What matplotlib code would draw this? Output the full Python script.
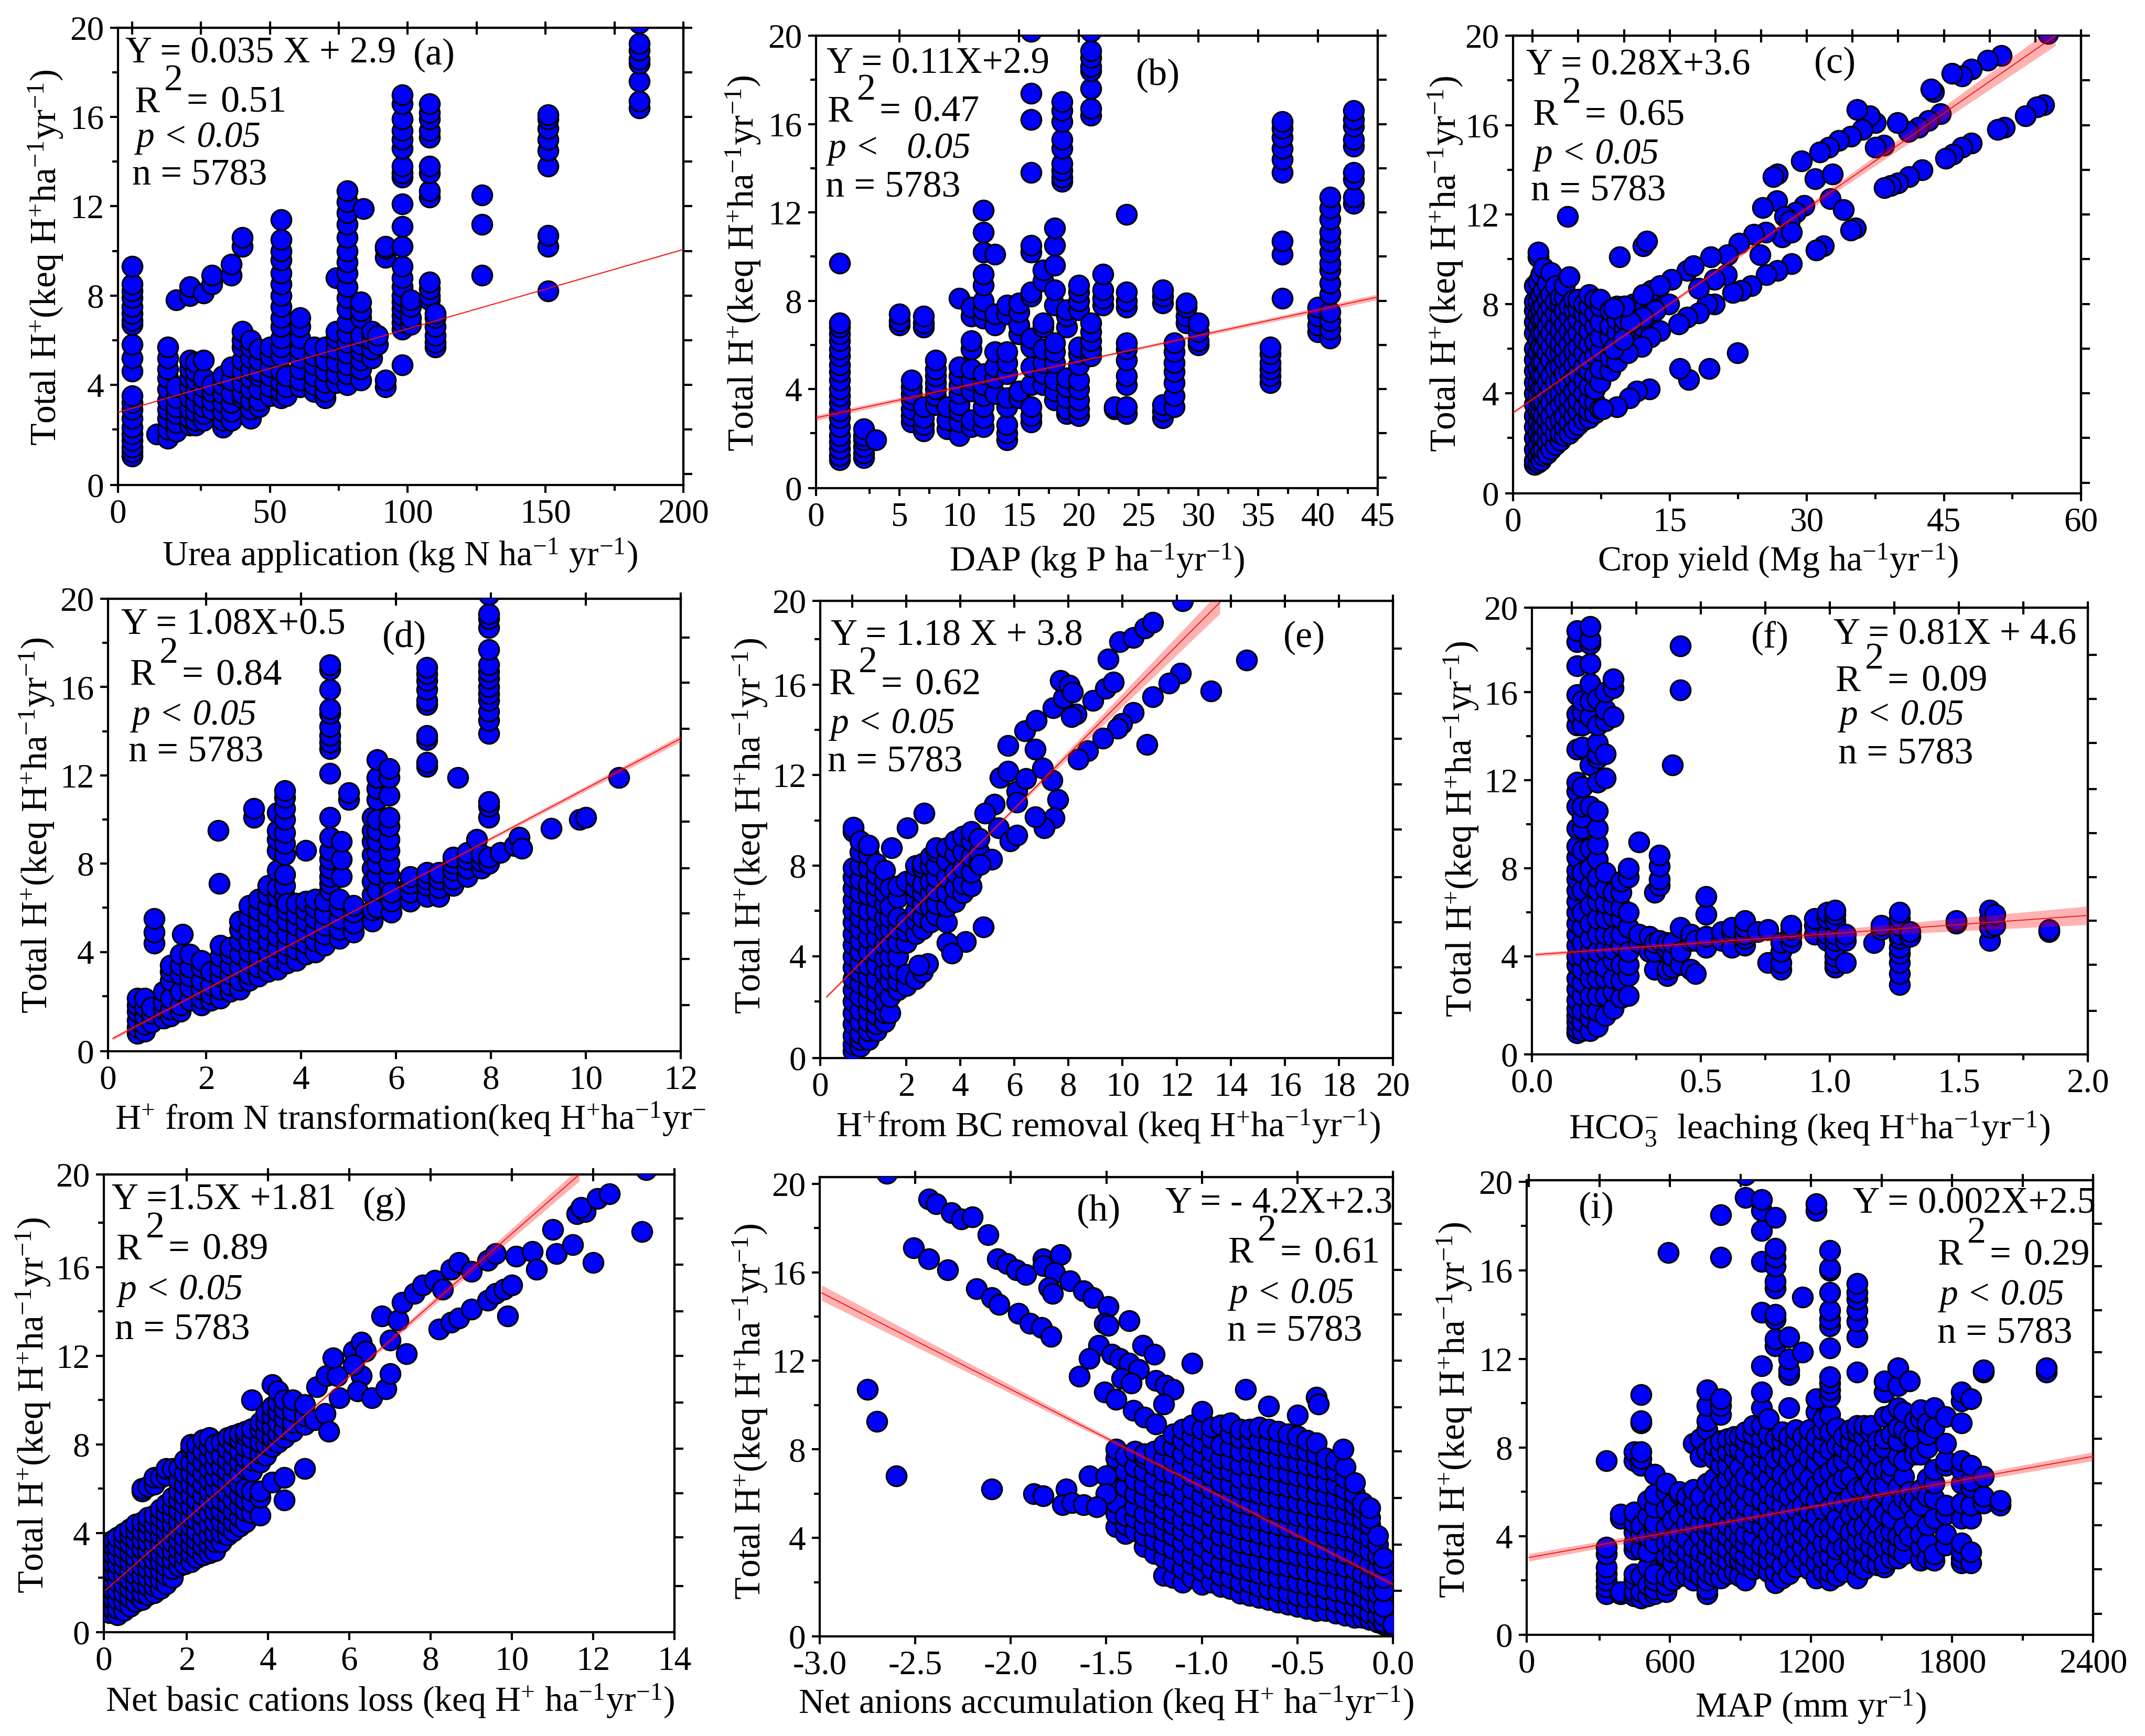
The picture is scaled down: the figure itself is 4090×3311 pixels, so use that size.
import matplotlib
matplotlib.use("Agg")
import matplotlib.pyplot as plt
import numpy as np

W, H = 4091, 3311
plt.rcParams['font.family'] = ['Liberation Serif', 'DejaVu Sans']
plt.rcParams['mathtext.fontset'] = 'custom'
plt.rcParams['mathtext.rm'] = 'Liberation Serif'
plt.rcParams['mathtext.it'] = 'Liberation Serif:italic'
plt.rcParams['mathtext.bf'] = 'Liberation Serif:bold'

# ---------------- panel (a) ----------------
a_cx = [0, 9, 13, 16, 21, 23, 26, 29, 33, 36, 40, 43, 46, 50, 54, 56, 61, 66, 70, 74, 78, 83, 84, 87, 89, 92, 98, 101, 108, 110, 127, 151, 184]
a_cy = [[0.8,1.0,1.2,1.5,1.8,2.1,2.5,2.9,3.2,3.5,4.6,5.2,5.8,6.7,6.9,7.2,7.5,7.9,8.2,8.5,9.3],
        [1.8],[1.6,2.0,2.5,2.9,3.3,3.8,4.3,4.7,5.2,5.7],[1.9,2.3,2.7,3.0,3.4,3.9,7.8],
        [2.2,2.5,2.9,3.4,3.9,4.3,4.7,5.1,8.0,8.4],[2.2,2.4,2.8,3.2,3.7,4.2,4.6,5.0],
        [2.4,2.7,3.0,3.4,3.9,4.3,5.1,8.1],[2.9,3.3,3.7,4.0,8.5,8.9],[2.1,2.4,2.8,3.2,3.6,4.0,4.4],
        [2.4,2.8,3.2,3.6,4.2,4.8,8.9,9.4],[3.4,3.6,4.1,4.6,5.1,5.7,6.0,6.4,10.2,10.6],
        [2.5,2.9,3.3,3.8,4.3,4.7,5.2,5.7,6.0],[3.0,3.3,3.8,4.4,4.6,5.1,5.6],[3.5,3.9,4.4,4.8,5.3,5.7],
        [3.4,3.7,4.1,4.6,5.3,5.7,6.1,6.6,7.0,7.5,8.0,8.5,9.0,9.6,10.0,10.5,11.4],[3.5,3.9,4.4],
        [3.9,4.2,4.7,5.2,5.6,6.1,6.6,7.0],[3.7,4.0,4.4,4.9,5.3,5.7],[3.4,3.7,4.1,4.6,5.1,5.7],
        [4.1,4.5,5.0,5.6,6.1,6.4,8.8],[4.0,4.5,4.9,5.4,5.9,6.3,6.8,7.4,7.9,8.4,9.0,9.5,10.0,10.6,11.2,11.7,12.2,12.7],
        [4.2,4.7,5.1,5.5,5.8,6.2,7.0,7.3,7.7],[11.9],[5.2,5.6,6.0,6.4],[5.8,6.2],[3.9,4.2,9.7,10.1,10.2],
        [4.9,6.5,6.8,7.1,7.4,7.7,8.0,8.4,8.8,9.3,10.2,11.1,12.1,13.3,13.5,13.8,14.6,15.0,15.4,15.9,16.6,17.0],
        [6.7,7.0,7.5,7.8],[7.8,8.0,8.3,8.6,12.4,12.7,13.5,13.8,15.1,15.4,15.9,16.2,16.6],
        [5.7,5.9,6.2,6.6,7.0,7.2],[8.9,11.2,12.5],[8.2,10.2,10.7,13.8,14.5,15.0,15.5,15.9,16.1],
        [16.4,16.7,17.6,18.4,18.6,19.0,19.3,20.2]]
a_line_x = [-5.1, 200]; a_line_y = [2.77, 10.07]; a_band = [0.03, 0.02, 0.03]

# ---------------- panel (b) ----------------
b_cx = [0,2,3,5,6,7,8,9,10,11,12,13,14,15,16,17,18,19,18.6,20,21,22,23,24,27,28,29,30,36,37,40,41,43]
b_cy = [[0.8,1,1.3,1.6,1.9,2.3,2.7,3,3.4,3.7,4,4.4,4.8,5.1,5.5,5.8,6.2,6.5,6.8,7,9.7],
        [0.9,1.1,1.4,1.7,1.9,2.2],[1.7],[6.9,7.1,7.4],[2.5,2.8,3.1,3.5,3.8,4.1,4.4],[2.1,2.4,2.7,3.2,6.8,7,7.3],
        [3.3,3.7,4,4.3,4.6,4.9,5.3],[2.2,2.6,3.2],[1.9,2.5,3,3.3,3.8,4.2,4.6,5,8.1],[2.3,2.6,3.9,4.4,4.9,5.8,6.2,7.3,7.7],
        [2.3,2.7,3.2,3.7,4.2,4.7,7.2,7.6,8,8.7,9.2,10.2,11.1,12.1],[3.8,4.5,5,5.7,6.9,7.4,10.1],
        [1.7,2,2.4,3.2,3.6,4.7,5.2,5.7,7.4,7.8],[3.6,3.9,6.5,6.9,7.5,7.9],
        [2.5,2.8,3.2,4.2,5,5.9,6.3,8.2,8.4,10.2,10.5,13.8,16.2,17.4,20.2],[4.2,4.7,5.2,5.8,6.8,7,8.9,9.4],
        [3.5,3.9,4.4,5.2,5.7,6.1,7.8,8.5,9.6,10.5,11.3],[2.9,3.1,3.6,4.1,4.5,6.8,7.3,7.6],
        [13.4,13.6,13.9,14.2,14.9,15.3,16.1,16.6,17],[2.8,3.1,3.5,4,4.4,5.1,5.6,5.9,7.6,8,8.4,8.7],
        [5.5,5.8,6.2,6.6,7,16.4,16.7,17.6,18.4,18.6,19,19.3,20.2],[7.8,8.1,8.5,9.2],[3.1,3.2],
        [2.9,3.2,4.2,4.6,5.3,5.8,6.1,7.7,8,8.4,11.9],[2.7,3,3.3,7.9,8.2,8.5],[3.2,3.7,4.3,4.8,5.2,5.7,6.1],
        [7,7.3,7.7,7.9],[6,6.2,6.6,7],[4.3,4.6,4.9,5.2,5.6,5.9],[8.1,10.1,10.7,13.8,14.4,14.9,15.4,15.8,16.1],
        [6.6,6.9,7.3,7.7],[6.3,6.7,7.1,7.5,8.3,8.8,9.4,9.7,10.2,10.7,11.1,11.7,12.2,12.7],
        [12.4,12.7,13.5,13.8,15,15.3,15.9,16.2,16.6]]
b_line_x = [-2, 45]; b_line_y = [2.7, 8.17]; b_band = [0.12, 0.05, 0.13]

# ---------------- panel (c) ----------------
c_cx = [0.2,0.6,0.9,1.2,1.6,2,2.5,3,3.5,4,4.5,5,5.6,6.2,6.8,7.4,8.5,9.2,10,11,12,13]
c_cy = [[0.8,1,1.5,2,2.5,3,3.5,4,4.5,5,5.5,6,6.7,7.2,7.7,8.1,8.8],
        [0.9,1.2,1.7,2.2,2.7,3.2,3.9,4.5,5.1,5.8,6.4,7,7.5,8.1,9.0,10.1,10.3],
        [1.0,1.4,2.0,2.5,3.1,3.6,4.2,4.8,5.4,6.1,6.7,7.3,7.8,8.4,9.3],
        [1.2,1.5,2,2.5,3,3.6,4.2,4.8,5.4,6,6.7,7.3,7.9,8.6,9.6],
        [1.3,1.8,2.3,2.8,3.3,3.9,4.5,5.1,5.8,6.4,7,7.6,8.2,8.9],
        [1.5,2,2.5,3,3.6,4.2,4.8,5.5,6.1,6.7,7.3,7.9,8.4,9.4],
        [1.7,2.2,2.7,3.3,3.9,4.5,5.1,5.8,6.4,7,7.6,8.1,8.8],
        [1.9,2.2,2.8,3.5,4,4.6,5.2,5.8,6.2,6.8,7.4,8,8.3],
        [2.1,2.5,3,3.7,4.3,4.9,5.5,6,6.5,7.1,7.7,8.3,8.8],
        [2.2,2.7,3.3,3.8,4.4,5,5.6,6.2,6.8,7.4,7.9,9.2],
        [2.4,3,3.5,4.1,4.7,5.3,5.9,6.5,7.1,7.7,8.2],
        [2.6,3.2,3.7,4.3,4.9,5.5,6.1,6.7,7.3,7.8,8.2],
        [2.8,3.4,4,4.6,5.2,5.8,6.4,7,7.6,8],
        [2.9,3.2,3.7,4.3,5,5.5,6.2,6.8,7.4,7.9,8.4],
        [3.1,3.6,4.2,4.8,5.7,6.3,7,7.6,8.2],
        [3.3,4.5,5.1,5.9,6.5,7.2,7.9,8.2],[5,5.6,6.5,7,7.7],[5.4,6,6.7,7.3,7.9],[6.3,6.9,7.3,7.9],[6.1,6.7,7.3,8],[6.3,7,7.6,8.1],[6.9,7.5,8.2,8.6]]
c_px = [56.4,51.3,49.8,48,47,45.9,43.9,43.6,44.6,43.3,42.2,41.1,39.9,38.4,37.5,37.5,36.9,35.5,36.1,34.8,33.5,32.4,31.4,29.4,26.8,26.3,30.9,32.8,32.6,34,35.3,34.8,31.8,31,28.3,26.8,25.6,24.9,23.9,22.8,21.9,19.9,19.1,18.2,16.9,16,13.9,12.9,11.9,10.4,8.9,
        26.7,25.2,29.7,28.8,27.6,28.1,27.3,28.3,25.5,24.2,22.6,21.3,19.5,21.2,19.9,18.2,16.9,17.6,15.2,13.9,14.9,13.4,12.1,12.1,10.7,10.1,8.9,9.9,
        3.8,9.5,12.1,12.5,22.4,19.3,17.1,16.1,12.8,11.4,10.6,9.2,7.7,
        55.9,55.2,53.9,51.6,50.9,48,47,46,45.2,42.6,41.2,40,39.2,38.5]
c_py = [20.1,19.1,18.9,18.5,18.2,18.3,17.5,17.6,16.5,16.2,15.9,15.7,16.1,15.1,15,16.1,16.4,16.7,15.8,15.5,15.3,15,14.8,14.4,13.8,13.7,13.6,13.8,12.7,12.2,11.4,11.3,10.6,10.4,9.8,9.5,9.3,10.2,8.8,8.6,8.5,8,8,7.6,7.4,7.1,6.8,6.5,6.1,5.8,6,
        12.6,12.3,12.4,12.1,11.9,11.7,11,11.2,11.2,11.1,10.7,10.2,10.1,9.3,9.1,8.7,9.5,9.7,9.1,8.8,8,7.7,8.4,7.4,7.2,7.9,7.8,6.4,
        11.9,10.1,10.6,10.8,5.8,5.1,4.6,5.1,4.2,4.1,3.8,3.4,3.3,
        16.9,16.8,16.4,15.9,15.8,15.2,15,14.7,14.5,14,13.7,13.4,13.3,13.2]
c_line_x = [-2.14, 57.2]; c_line_y = [3.13, 20]; c_band = [0.06, 0.1, 0.45]

# ---------------- panel (d) ----------------
d_cx = [0.55,0.7,0.85,0.9,1.1,1.25,1.45,1.5,1.65,1.9,2.1,2.25,2.27,2.3,2.5,2.7,2.9,3,3.1,3.3,3.5,3.65,3.7,3.9,4.1,4.3,4.5,4.6,4.85,4.8,5,5.1,5.5,5.6,5.85,5.9,6.3,6.65,6.9,7.2,7.3,7.5,7.7,7.8,7.95,8.2,8.5,8.6,8.65,9.27,9.87,10,10.7]
d_cy = [[0.3,0.6,0.9,1.3,1.6,1.9],[0.4,0.7,1.1,1.5,1.9],[0.8,1.2,1.5],[4.4,4.9,5.5],[1.0,1.4,1.7,2.2],[1.1,1.4,1.9,2.7,3.1,3.4],
        [1.3,1.6,2.2,3,3.4,3.9],[4.8],[1.8,2.4,2.9,3.3,3.9],[1.6,1.9,2.3,2.7,3.3,3.6],[1.8,2.1,2.5,3.1],[9.5],[7.1],
        [1.9,2.3,2.9,3.3,3.8,4.3],[2.2,2.5,3,3.4,3.9,4.2],[2.3,2.7,3.3,3.9,4.5,5,5.4],[2.7,3,3.5,4,4.5,5,5.6,6.1],[10.1,10.5],
        [2.9,3.3,3.8,4.4,4.9,5.4,5.9,6.4],[3.1,3.5,4,4.5,5,5.6,6.1,6.6,7],[3.2,3.7,4.2,4.7,5.3,5.8,6.5,6.9,7.7,8.6,9.1,9.5,10.3],
        [6.5,7,7.5,8.4,8.9,9.4,10,10.5,11,11.3],[3.5,3.9,4.3,4.8,5.4,5.9,6.2],[3.6,4.1,4.6,5.2,5.7,6.2],[3.9,4.4,4.9,5.4,5.9,6.3,8.6],
        [4.0,4.5,5,5.5,6,6.4],[4.3,4.8,5.2,5.7,6.3],[6.8,7.1,7.4,7.8,8.2,8.6,9.2,10.1,12.1,13.2,13.5,13.8,14.2,14.8,15,15.9,16.8,17],
        [7.4,8.2,9],[4.6,5,5.5,6,6.4],[10.9,11.2],[4.9,5.3,5.8,6.1],[5.4,5.9,6.6,7.2,7.8,8.4,9,9.5,10.1],
        [6,6.8,7.5,8,8.5,9,9.5,10,10.9,11.4,11.9,12.7],[6.5,7,7.5,8,8.6,9.1,9.7,10.1,11.1,11.9,12.3],[5.8,6.3,6.7],[6.3,6.7,7.1,7.4],
        [6.5,7,7.3,7.6,12.4,12.6,13.6,13.8,15.2,15.4,15.9,16.3,16.6,16.9],[6.5,6.9,7.3,7.6],[7,7.3,7.7,8,8.3],[11.9],[7.4,7.8,8.2,8.5],[9.1],[7.8,8.1,8.4],
        [8,8.3,10.1,10.6,10.8,13.9,14.5,14.9,15.4,15.7,16,16.4,16.7,17,17.7,18.7,19.1,19.3,20.2],[8.5],[8.8],[9.2],[8.7],[9.6],[10],[10.1],[11.9]]
d_line_x = [0.03, 12]; d_line_y = [0.08, 13.67]; d_band = [0.08, 0.04, 0.15]

# ---------------- panel (e) ----------------
e_cx = [0.05,0.3,0.6,0.9,1.2,1.4,1.7,2.0,2.35,2.6,2.9,3.1,3.5,3.8,4.1,4.4,4.7]
e_cy = [[-0.2,0.1,0.5,1.0,1.5,2.0,2.5,3.0,3.5,4.0,4.5,5.0,5.5,6.0,6.5,7.0,7.5,7.9,9.5,9.7],
        [0.0,0.3,0.6,1.1,1.6,2.2,2.8,3.3,3.7,4.2,4.7,5.2,5.7,6.2,6.8,7.4,8.0,8.6,9.1],
        [0.3,0.7,1.1,1.6,2.1,2.6,3.1,3.6,4.2,4.8,5.4,6.0,6.7,7.2,7.9,8.5,8.9],
        [0.7,1.0,1.4,1.9,2.4,3.0,3.6,4.2,4.8,5.4,6.0,6.6,7.1,7.6,8.1],
        [1.1,1.5,2.0,2.6,3.3,3.9,4.5,5.1,5.7,6.3,6.8,7.3,7.8],
        [1.5,2.2,2.9,3.4,4.0,4.6,5.2,5.7,6.2,7.0],
        [2.5,2.9,3.4,4.0,4.6,5.2,5.7,6.6,7.1],
        [2.7,3.2,4.6,5.1,5.5,7.3],
        [3.0,5.0,5.6,6.0,6.6,7.0,7.5,8.0],
        [3.3,5.2,5.7,6.3,6.8,7.2,7.9,8.1],
        [5.5,6.2,6.8,7.3,8.0,8.4],
        [5.8,6.3,6.9,7.5,8.0,8.6,8.8],
        [5.5,6.2,6.8,7.5,8.2,8.8],[6.4,7.0,7.7,8.5,9.1],[6.8,7.2,7.9,8.6,9.3],[7.1,7.7,8.4,9.1,9.5],[8.1,8.6,9.2]]
e_px = [5.76,6.77,6.38,6.82,7.44,7.81,7.70,8.03,8.15,8.29,8.12,8.91,9.38,9.67,9.47,9.89,10.4,10.82,11.12,12.22,11.12,12.14,11.71,13.27,14.58,10.9,10.4,9.97,9.81,9.27,8.71,8.37,7.39,7.05,7.61,7.48,7.11,6.77,6.09,6.09,5.47,5.76,6.43,5.25,4.91,5.42,5.84,6.09,2.67,2.04,1.45,4.86,4.19,3.51,3.68,2.8,2.46,5.16,4.74]
e_py = [13.31,13.15,13.96,14.41,14.98,15.42,16.19,15.98,15.66,14.69,14.57,15.3,15.82,16.11,17.12,17.89,18.09,18.49,18.74,19.7,15.47,16.5,16.06,15.71,17.08,13.36,14.77,14.28,14.07,13.64,13.07,12.71,11.77,12.31,10.91,10.11,9.67,10.15,11.29,10.8,11.89,12.18,11.85,10.72,10.32,9.67,9.1,9.34,10.32,9.67,8.78,5.3,4.65,4.6,4.13,3.68,3.6,8.29,8.05]
e_line_x = [-0.95, 13.6]; e_line_y = [2.2, 19.63]; e_band = [0.06, 0.08, 0.5]

# ---------------- panel (f) ----------------
f_cx = [0.02,0.04,0.07,0.1,0.13,0.16,0.19,0.22,0.26,0.3,0.32,0.34,0.37,0.39,0.42,0.46,0.48,0.52,0.58,0.62,0.67,0.72,0.76,0.81,0.85,0.94,0.99,1.02,1.06,1.17,1.2,1.27,1.31,1.49,1.62,1.64,1.85]
f_cy = [[0.5,0.7,1,1.3,1.6,2,2.5,3,3.6,4,4.5,5,5.5,6,6.5,7,7.5,7.9,8.5,9,9.8,10.8,11.5,11.9,13.4,14.5,15,15.9,17.2,18.3,18.8],
        [0.6,1,1.5,2.2,2.8,3.4,4,4.6,5.3,6,7,7.8,8.8,9.8,10.3,10.8,11.7,13.5,14.5,15.1,15.6],
        [0.6,1.2,1.6,2.2,3,3.6,4.2,4.8,5.5,6.3,7.2,8,8.9,10.8,12.7,14.9,15.6,16.4,17.3,18.2,18.4,19,20.3],
        [0.8,1.5,2.2,3,3.7,4.2,5,5.7,6.5,7,7.6,8.4,9.1,9.8,10.6,11.9,13,13.2,13.7,14.5,15.7],
        [1.3,2.2,3,3.5,4.3,5,5.7,6.4,7.1,7.8,12.1,13.2,14.7,15.2,16],
        [1.6,2.4,3,3.8,4.3,4.9,5.8,6.3,6.9,14.9,16.2,16.6],
        [2.1,2.9,3.6,4.5,5,5.7,6.2,6.9,7.4],[2.2,3.1,3.6,4.2,5.3,6.0,7.6,8],[4.6,5,9.2],[4.2,4.9],[3.4,4.2,4.6,6.9],
        [4.7,7.2,7.5,8.1,8.6],[3.1,3.4,4.3,4.6],[3.5,4,4.6,12.7],[3.6,4.2,5.3,16.1,18.1],[3.4,4.7,5],[3.2,4.7],[4.4,4.9,5.9,6.7],
        [4.7,5.1],[4.4,5.1,5.3],[4.5,4.8,5,5.3,5.6],[5.1],[3.7,5.2],[3.4,3.7,4.2,4.6],[4.6,4.9,5.2,5.4],[5,5.4,5.7],[4.7,5,5.7,6],
        [3.5,3.7,4.0,4.3,4.7,5,5.6,5.9,6.1],[3.7,4.7,5],[4.6],[5.2,5.4],[2.7,3.2,3.7,4.1,4.4,4.8,5,5.4,5.7,6],[4.9,5.1],[5.5,5.6],
        [4.7,5.3,5.7,6.1],[5.4,5.9],[5.1,5.2]]
f_line_x = [-0.14, 2.0]; f_line_y = [4.07, 5.85]; f_band = [0.08, 0.15, 0.42]

# ---------------- panel (g) ----------------
g_cx = [0.1,0.2,0.3,0.45,0.6,0.75,0.9,1.05,1.2,1.35,1.5,1.65,1.8,1.95,2.1,2.25,2.4,2.55,2.7,2.85,3,3.15,3.3,3.45,3.6,3.8,3.95,4.1,4.25,4.4,4.6,4.9]
g_cy = [[0.4,0.8,1.2,1.6,2.0,2.4,2.8,3.2,3.6],[0.5,1,1.4,1.8,2.2,2.6,3,3.4,3.7],[0.3,0.6,1,1.4,1.8,2.2,2.6,3,3.4,3.8],[0.5,0.9,1.3,1.7,2.1,2.5,2.9,3.3,3.7,4],
        [0.7,1.1,1.5,1.9,2.3,2.7,3.1,3.5,3.9,4.2],[0.9,1.3,1.7,2.1,2.5,2.9,3.3,3.7,4.1,4.4],[1,1.3,1.7,2.1,2.5,2.9,3.3,3.7,4.1,4.5,5.9,6],[1.2,1.6,2,2.4,2.8,3.2,3.6,4,4.4,4.7,6.1],
        [1.3,1.6,2,2.4,2.8,3.2,3.6,4,4.4,4.8,6.2,6.5],[1.5,1.9,2.3,2.7,3.1,3.5,3.9,4.3,4.7,5.1,6.5],[1.7,2.1,2.5,2.9,3.3,3.7,4.1,4.5,4.9,5.3,6.6,6.9],[2,2.4,2.8,3.2,3.6,4,4.4,4.8,5.2,5.6,6.9],
        [2.5,2.9,3.3,3.7,4.1,4.5,5,5.5,5.9,6.4,6.9],[2.6,3,3.4,3.8,4.3,4.8,5.3,5.7,6.2,6.7,7.3],[2.7,3.1,3.5,3.9,4.3,4.7,5.2,5.7,6.2,6.7,7.2,7.8,8],[2.9,3.3,3.7,4.1,4.6,5,5.5,6,6.5,7,7.5,8],
        [3,3.4,3.8,4.3,4.8,5.2,5.7,6.2,6.7,7.2,7.7,8.2],[3.1,3.5,3.9,4.4,4.9,5.4,5.9,6.4,6.9,7.4,7.9,8.3],[3.2,3.6,4,4.5,5,5.5,6,6.5,7,7.5,8],[3.6,4,4.5,5,5.5,6,6.5,7,7.5,8.1],
        [3.9,4.3,4.8,5.3,5.8,6.3,6.8,7.3,7.8,8.3],[4.1,4.5,5,5.5,6,6.5,7,7.5,8,8.4],[4.3,4.7,5.2,5.7,6.2,6.7,7.2,7.7,8.2,8.5],[4.5,5,5.5,6,6.9,7.4,7.9,8.4,8.6],
        [4.9,5.4,5.9,6.8,7.3,7.8,8.3,8.7,10],[4.8,5.6,5.9,7.2,7.6,8.1,8.7,9],[7.5,8,8.5,9,9.4],[6.3,7.9,8.3,8.8,9.3,9.7,10.7],[8.1,8.5,9,9.5,9.9,10.4],
        [5.5,6.5,8.3,8.7,9.2,9.6,10],[8.6,9,9.5,10],[6.9,8.9,9.3,9.8]]
g_px = [5.15,5.4,5.5,5.76,5.2,5.43,5.7,5.6,6.1,6.3,6.4,6.3,6.1,6.2,6.55,6.9,7,7,7.4,6.8,7.2,7.3,7.6,7.8,8.1,8.5,8.7,8.3,9,9.4,9.6,8.2,8.5,8.7,9,9.4,9.6,9.8,10,9.9,10.1,10.5,10.6,11.1,11.5,11,12,11.6,11.8,11.7,12.1,12.4,13.2,13.3]
g_py = [9.1,9.4,8.6,10.1,10.6,11.1,11.1,11.9,12.2,12.6,12.2,11.1,11.6,10.4,10.1,10.5,11.2,12.7,12.1,13.8,13.6,14.4,14.8,15.2,15.4,15.9,16.2,15,15.8,16.3,16.6,13.2,13.5,13.7,14.1,14.5,14.8,15,15.2,13.8,16.5,16.7,15.9,16.6,17,17.7,16.2,18.4,18.5,18.7,19.1,19.3,17.6,20.4]
g_line_x = [0, 11.66]; g_line_y = [1.43, 20.18]; g_band = [0.05, 0.06, 0.3]

# ---------------- panel (h) ----------------
h_cx = [-1.45,-1.4,-1.35,-1.3,-1.25,-1.2,-1.15,-1.1,-1.05,-1.0,-0.95,-0.9,-0.85,-0.8,-0.75,-0.7,-0.65,-0.6,-0.55,-0.5,-0.45,-0.4,-0.35,-0.3,-0.25,-0.2,-0.16,-0.12,-0.08,-0.05,0.0]
h_cy = [[4.5,5.1,5.6,6.4,7.1,7.6,8.0],[4.2,4.6,5,6.3,7,7.7],[4.3,4.9,5.4,6,6.6,7.2,7.9],[3.6,4.1,4.6,5.1,5.8,6.4,7,7.6,7.8],[3.3,3.9,4.5,5.1,5.6,6.1,6.7,7.3,7.9],
        [2.3,3.1,3.7,4.3,4.8,5.3,5.8,6.4,7,7.6,8.2],[2.2,2.9,3.5,4.1,4.6,5.1,5.7,6.3,6.9,7.5,8.1,8.7],[2,2.6,3.2,3.8,4.3,4.8,5.4,6,6.6,7.2,7.8,8.4,8.9],[2.2,2.8,3.3,3.9,4.5,5,5.6,6.2,6.8,7.4,8,8.6,9.1],
        [1.9,2.5,3,3.6,4.2,4.8,5.4,5.9,6.5,7.1,7.7,8.3,8.9,9.7],[2,2.6,3.2,3.8,4.4,5,5.6,6.2,6.8,7.4,7.9,8.5,9],[1.8,2.3,2.9,3.5,4.1,4.7,5.3,5.9,6.5,7.1,7.6,8.2,9.1],[1.7,2.2,2.8,3.4,4,4.6,5.2,5.8,6.4,7,7.5,8.1,8.7,9.2],
        [1.5,2,2.6,3.2,3.8,4.4,5,5.6,6.2,6.7,7.3,7.9,8.5,8.9],[1.4,2,2.5,3.1,3.7,4.3,4.9,5.5,6.1,6.7,7.3,7.9,8.5,8.9],[1.3,1.8,2.4,3,3.6,4.2,4.8,5.4,6,6.6,7.2,7.8,8.4,9],[1.2,1.7,2.3,2.9,3.5,4.1,4.7,5.3,5.9,6.5,7.1,7.7,8.3,8.9],
        [1.1,1.6,2.2,2.8,3.4,4,4.6,5.2,5.8,6.4,7,7.6,8.2,8.8],[1,1.5,2.1,2.7,3.3,3.9,4.5,5.1,5.7,6.3,6.9,7.5,8.1,8.7],[0.9,1.4,2,2.6,3.2,3.8,4.4,5,5.6,6.2,6.8,7.4,8,8.6],[0.8,1.3,1.9,2.5,3.1,3.7,4.3,4.9,5.5,6.1,6.7,7.3,7.9,8.4],
        [0.7,1.3,1.8,2.4,3,3.6,4.2,4.8,5.4,6,6.6,7.2,7.8,8.3],[0.7,1.2,1.7,2.3,2.9,3.5,4.1,4.7,5.3,5.9,6.5,7.1,7.6],[0.6,1.1,1.6,2.2,2.8,3.4,4,4.6,5.2,5.8,6.4,7,7.5],[0.5,1,1.5,2.1,2.7,3.3,3.9,4.5,5.1,5.7,6.2,6.7,7.2],
        [0.4,0.9,1.4,2,2.6,3.2,3.8,4.4,5,5.5,6,6.5],[0.4,0.8,1.3,1.8,2.4,3,3.6,4.2,4.8,5.3,5.6],[0.3,0.6,1.1,1.6,2.2,2.8,3.4,4,4.6,4.9],[0.2,0.5,1,1.5,2.1,2.6,3.2,3.7,4.1],
        [0.1,0.2,0.5,0.9,1.6,2.2,2.8,3.1],[0,0.1]]
h_px = [-2.65,-2.43,-2.39,-2.31,-2.26,-2.2,-2.12,-2.07,-2.02,-1.97,-1.92,-1.83,-1.83,-1.74,-1.77,-1.8,-1.78,-1.69,-1.62,-1.57,-1.49,-1.51,-1.49,-1.38,-1.54,-1.59,-1.64,-1.51,-1.45,-1.47,-1.43,-1.38,-1.33,-1.42,-1.37,-1.31,-1.25,-1.24,-1.19,-1.15,-1.2,-1.36,-1.3,-1.24,-1.05,-0.77,-0.65,-0.5,-0.4,-0.39,-0.26,-0.12,-2.75,-2.7,-2.6,-2.1,-1.88,-1.83,-1.71,-1.59,-1.5,-1.5,-1.73,-1.68,-1.62,-1.55,-2.51,-2.43,-2.33,-2.18,-2.1,-2.06,-1.96,-1.9,-1.84,-1.79]
h_py = [20.46,19.3,19.1,18.7,18.4,18.5,17.7,16.6,16.4,16.1,15.9,16.6,16.3,16.8,16,15.3,15.05,15.6,15.15,14.85,14.45,13.7,13.6,13.8,12.7,12.1,11.3,10.6,10.25,12.3,12.1,11.9,11.6,11.2,11,12.7,12.3,11.1,10.9,10.7,10.05,9.75,9.45,9.15,11.9,10.7,9.95,9.55,10.35,10.05,8,5.35,10.7,9.25,6.8,6.2,6,5.9,6.2,6.8,6.8,6,5.5,5.6,5.5,5.4,17.1,16.6,16.1,15.25,14.85,14.55,14.15,13.7,13.5,13.1]
h_line_x = [-2.99, 0]; h_line_y = [15.07, 1.9]; h_band = [0.35, 0.1, 0.12]

# ---------------- panel (i) ----------------
i_cx = [330,390,447,476,505,534,583,610,640,670,699,728,757,786,815,844,873,897,921,955,989,1018,1047,1076,1105,1134,1163,1192,1221,1250,1279,1308,1337,1366,1395,1424,1453,1482,1511,1540,1569,1595,1618,1640,1666,1695,1724,1773,1840,1879,1933,2005,2202,593]
i_cy = [[1.4,1.7,2,2.3,2.6,3.2,3.5,7.4],[1.4,1.5,4.8,5],[1.3,1.5,2,2.3,3.4,3.7,4.2,4.6,5.1,7.4,7.8],
        [1.2,1.5,2.2,3.4,4.1,4.5,7.2,7.5,7.8,9.1,9.2,10.4],[1.3,1.8,2.6,3.3,4,4.9,5.6],[1.4,1.6,2,2.3,3.7,4.3,4.6,5.3,5.9,6.8],[1.5,1.8,2.2,3.1,3.7,4.4,5.2,6,6.4],[2,2.8,3.3,3.9,4.7,5.5],
        [2.2,3.2,3.6,4.2,5,5.9,6],[2.2,2.7,3.3,3.9,4.6,5.3,5.8],[2,2.4,3,3.5,4.4,4.9,5.5,6.1,8.2],[2.2,2.8,3.3,4,4.6,5.2,5.8,7.6,8.4],[1.4,1.6,2,2.4,3.1,3.6,4.2,4.6,5.2,6.4,7.8,8.8,9.2,9.9,10.6],[2.2,2.7,3.4,3.9,4.5,5,5.8,6.6,7.5,8.1],
        [2.1,2.7,3.1,3.6,4.2,4.8,5.6,6.3,7.2,7.8,8.3,9.5,9.9,10.2,16.6,18.5],[2.3,2.9,3.4,4,4.5,5.2,5.9,6.6,7.2,7.8,8.4],[2.4,3,3.6,4.2,4.8,5.4,6,6.8,7.5,8,8.5],[2.2,2.9,3.3,3.9,4.5,5.1,5.7,6.4,7.1,7.9,8.5],
        [2,2.7,3.1,3.7,4.1,4.8,5.4,6.1,6.7,7.7,8.3,8.7,19.3,20.3],[2.5,2.9,3.4,4,4.6,5.1,5.8,6.5,7.3,8,8.6,9],
        [2.6,3.1,3.6,4.4,5,5.6,6.3,7,7.6,8,8.4,9,9.8,10.5,11.7,14.1,16.4,17.8,18.7,19.2],[2.4,2.9,3.4,4.1,4.7,5.3,5.9,6.6,7.3,7.9,8.6,9.3],
        [1.9,2.4,3,3.6,4.3,5,5.6,6.2,7,7.5,8.4,12.6,12.9,13.8,14,15.2,15.5,16.2,16.6,17,18.4],[2.1,2.7,3.4,4,4.7,5.4,6,6.8,7.7,8.3,8.7],
        [2.3,3,3.7,4.4,5.1,5.8,6.5,7.4,8,8.5,9.8,11.3,11.5,12,13],[2.6,3.3,3.9,4.5,5.2,6,6.8,7.6,8.3,8.8],[2.9,3.5,4.1,4.7,5.4,6.2,7,7.8,8.5,12.3,14.8],[2.5,3.1,3.8,4.4,5.1,5.8,6.6,7.5,8.2,8.8],
        [2.1,2.8,3.4,4.1,4.9,5.6,6.3,7.3,7.9,8.5,9.6,10.2,18.7,19],[2.4,3,3.7,4.4,5.2,5.9,6.7,7.6,8.2,8.8,9.3],
        [2,2.4,3.1,3.7,4.4,5.3,6.1,6.9,7.9,8.7,9.5,10.3,10.6,10.9,11.2,12.5,13.5,13.8,14.2,15,16,16.1,16.9],[2.2,2.8,3.4,4.1,4.8,5.6,6.4,7.2,8.1,8.9],
        [2.4,3.5,4.5,5.5,6.6,7.4,8,8.5],[3,3.6,4.2,5,5.8,6.7,7.7,8.3,8.8],[2.1,2.7,3.3,3.8,4.4,5.2,6.2,7.4,8,8.7,9,11.4,13,13.7,14.2,14.7,15,15.4],[2.5,3.2,3.8,4.5,5.3,6.2,7.1,7.8,8.5,9],
        [2.8,3.5,4.1,4.9,5.6,6.5,7.4,8,8.7,9],[2.7,3.3,3.9,4.6,5.3,6.2,7,7.7,8.3],[2.6,2.8,3.5,4.1,5,5.9,6.3,7,8,8.4,9.4,10.5,11],[3,3.6,4.2,4.8,5.5,6.8,7.2,8.6,9.5],
        [3,3.4,4,5.2,6.2,7.6,8.3,8.9,9.8,10.8,11.6],[3.2,3.8,4.4,5.7,6.7,7.4,8.8,9.6],[4,5.4,6,8.5,11],[4.8,5.7,7.7,8.4,9.2],[2.9,3.5,4.1,5.4,6.1,7.7,9.3,9.7],[3,3.7,4.5,5.8,6.6,8,8.6,9.1],[2.9,3.2,4.8,5.7,6.4,7,8.9,9.8],
        [3.6,4.1,5,5.4,7.2,7.4,8.2,9.4],[2.8,3,3.3,3.7,4.8,5.5,6.4,7,7.4,9.1,10.1,10.5],[2.8,3.3,4.8,5.4,6.2,6.5,7.2,10.2],
        [5.5,5.8,6.7,11.4,11.5],[5.4,5.6],[11.4,11.6],[16.8]]
i_line_x = [0, 2400]; i_line_y = [3.04, 7.6]; i_band = [0.17, 0.1, 0.2]

# ---------------- shared texts ----------------
y_label = r"Total H$^{+}$(keq H$^{+}$ha$^{-1}$yr$^{-1}$)"
x_labels = [r"Urea application (kg N ha$^{-1}$ yr$^{-1}$)", r"DAP (kg P ha$^{-1}$yr$^{-1}$)", r"Crop yield (Mg ha$^{-1}$yr$^{-1}$)",
            r"H$^{+}$ from N transformation(keq H$^{+}$ha$^{-1}$yr$^{-}$", r"H$^{+}$from BC removal (keq H$^{+}$ha$^{-1}$yr$^{-1}$)",
            r"HCO$_{3}^{-}$  leaching (keq H$^{+}$ha$^{-1}$yr$^{-1}$)", r"Net basic cations loss (keq H$^{+}$ ha$^{-1}$yr$^{-1}$)",
            r"Net anions accumulation (keq H$^{+}$ ha$^{-1}$yr$^{-1}$)", r"MAP (mm yr$^{-1}$)"]
equations = ["Y = 0.035 X + 2.9", "Y = 0.11X+2.9", "Y = 0.28X+3.6", "Y = 1.08X+0.5", "Y = 1.18 X + 3.8", "Y = 0.81X + 4.6", "Y =1.5X +1.81", "Y = - 4.2X+2.3", "Y = 0.002X+2.5"]
r2_values = ["0.51", "0.47", "0.65", "0.84", "0.62", "0.09", "0.89", "0.61", "0.29"]
letters = ["(a)", "(b)", "(c)", "(d)", "(e)", "(f)", "(g)", "(h)", "(i)"]
p_texts = ["p < 0.05"] * 9
p_texts[1] = "p <   0.05"
n_text = "n = 5783"

# ---------------- layout (pixels) ----------------
boxes = [(225,53,1303,925),(1556,68,2627,931),(2885,68,3968,941),(206,1142,1298,2005),(1564,1146,2656,2018),
         (2921,1159,3981,2011),(198,2240,1286,3113),(1563,2245,2656,3121),(2911,2251,3991,3118)]
xlims = [(-5.1,200),(-1.98,45),(-2.14,60),(-0.07,12),(-1.18,20),(-0.155,2.0),(-0.04,14),(-3,0),(-10,2400)]
ylims = [(-0.49,20),(-0.48,20),(-0.48,20),(-0.5,20),(-0.5,19.63),(-0.47,19.7),(-0.47,20.18),(-0.45,20.3),(-0.45,20.07)]
left_tick_top = [20,20,20,20,19.7,19.85,20.18,20.0,20.0]
xt_bottom = [[-5.1,50,100,150,200],[-1.98,5,10,15,20,25,30,35,40,45],[-2.14,15,30,45,60],[-0.07,2,4,6,8,10,12],
             [-1.18,2,4,6,8,10,12,14,16,18,20],[-0.155,0.5,1.0,1.5,2.0],[-0.04,2,4,6,8,10,12,14],[-3,-2.5,-2,-1.5,-1,-0.5,0],[-10,600,1200,1800,2400]]
xt_labels = [["0","50","100","150","200"],["0","5","10","15","20","25","30","35","40","45"],["0","15","30","45","60"],
             ["0","2","4","6","8","10","12"],["0","2","4","6","8","10","12","14","16","18","20"],["0.0","0.5","1.0","1.5","2.0"],
             ["0","2","4","6","8","10","12","14"],["-3.0","-2.5","-2.0","-1.5","-1.0","-0.5","0.0"],["0","600","1200","1800","2400"]]
xt_minor = [[25,75,125,175],[2.5,7.5,12.5,17.5,22.5,27.5,32.5,37.5,42.5],[7.5,22.5,37.5,52.5],[],[],[0.25,0.75,1.25,1.75],[],[],[300,900,1500,2100]]
xt_top = [[0,25,50,75,100,125,150,175,200],[5,10,15,20,25,30,35,40,45],[0,5,10,15,20,25,30,35,40,45,50,55,60],[2,4,6,8,10,12],
          [0,2,4,6,8,10,12,14,16,18,20],[0,0.25,0.5,0.75,1,1.25,1.5,1.75,2],[2,4,6,8,10,12,14],[-2.5,-2,-1.5,-1,-0.5,0],
          [0,300,600,900,1200,1500,1800,2100,2400]]
yt_right = [[0,2,4,6,8,10,12,14,16,18,20],[0,2,4,6,8,10,12,14,16,18,20],[0,2,4,6,8,10,12,14,16,18,20],
            [1.6,3.67,5.75,7.8,9.9,12,14.1,16.2,18.25],[1.5,3.5,5.5,7.5,9.6,11.6,13.6,15.6,17.6],[1.5,3.6,5.6,7.6,9.6,11.6,13.7,15.7,17.7],
            [1.6,3.8,5.8,7.8,9.9,12,14,16.1,18.2],[1.6,3.7,5.8,7.9,9.9,12,14.1,16.1,18.2],[0.5,2.5,4.5,6.4,8.4,10.3,12.3,14.2,16.2,18.1]]
xlabel_pos = [(762,1060),(2092,1070),(3390,1070),(783,2135),(2113,2149),(3450,2153),(744,3245),(2109,3249),(3452,3256)]
ylabel_pos = [(87,491),(1417,502),(2756,503),(70,1574),(1430,1575),(2786,1581),(63,2680),(1430,2692),(2773,2689)]
eq_pos = [(239,102),(1576,122),(2910,125),(231,1192),(1584,1213),(3496,1211),(213,2289),(2222,2296),(3533,2296)]
let_pos = [(788,105),(2166,144),(3459,121),(729,1216),(2447,1216),(3339,1218),(692,2296),(2053,2310),(3010,2305)]
r2_pos = [(257,196),(1578,214),(2923,221),(248,1289),(1581,1307),(3500,1300),(222,2384),(2342,2391),(3695,2395)]
p_pos = [(259,263),(1578,284),(2925,295),(251,1365),(1583,1381),(3507,1365),(225,2461),(2344,2468),(3698,2471)]
n_pos = [(252,335),(1574,358),(2919,365),(245,1435),(1578,1454),(3505,1439),(219,2537),(2340,2540),(3694,2544)]

columns = [(a_cx,a_cy),(b_cx,b_cy),(c_cx,c_cy),(d_cx,d_cy),(e_cx,e_cy),(f_cx,f_cy),(g_cx,g_cy),(h_cx,h_cy),(i_cx,i_cy)]
extras = [([],[]),([],[]),(c_px,c_py),([],[]),(e_px,e_py),([],[]),(g_px,g_py),(h_px,h_py),([],[])]
lines = [(a_line_x,a_line_y,a_band),(b_line_x,b_line_y,b_band),(c_line_x,c_line_y,c_band),(d_line_x,d_line_y,d_band),(e_line_x,e_line_y,e_band),
         (f_line_x,f_line_y,f_band),(g_line_x,g_line_y,g_band),(h_line_x,h_line_y,h_band),(i_line_x,i_line_y,i_band)]

fig = plt.figure(figsize=(W/100, H/100), dpi=100, facecolor='white')
FS_TICK, FS_LAB, FS_ANN = 47, 49, 52

def ftext(x, y, s, **kw):
    kw.setdefault('ha', 'left'); kw.setdefault('va', 'center')
    return fig.text(x/W, 1-y/H, s, **kw)

for k in range(9):
    l, t, r, b = boxes[k]
    ax = fig.add_axes([l/W, 1-b/H, (r-l)/W, (b-t)/H])
    cx, cy = columns[k]
    xs = [x for x, ys in zip(cx, cy) for _ in ys]
    ys = [y for col in cy for y in col]
    xs = xs + list(extras[k][0]); ys = ys + list(extras[k][1])
    ax.scatter(xs, ys, s=760, c='#0000FF', edgecolors='black', linewidths=2.4, zorder=3)

    lx, ly, bw = lines[k]
    mx, my = (lx[0]+lx[1])/2, (ly[0]+ly[1])/2
    bx = [lx[0], mx, lx[1]]; by = [ly[0], my, ly[1]]
    ax.fill_between(bx, np.array(by)-np.array(bw), np.array(by)+np.array(bw), color='#FF0000', alpha=0.3, lw=0, zorder=4)
    ax.plot(lx, ly, color='#F01010', lw=1.3, zorder=5)

    ax.set_xlim(*xlims[k]); ax.set_ylim(*ylims[k])
    for s in ax.spines.values():
        s.set_linewidth(3)

    ax.set_xticks(xt_bottom[k]); ax.set_xticklabels(xt_labels[k])
    ax.set_xticks(xt_minor[k], minor=True)
    ax.set_yticks([ylims[k][0],4,8,12,16,left_tick_top[k]]); ax.set_yticklabels(["0","4","8","12","16","20"])
    ax.set_yticks([2,6,10,14,18], minor=True)
    ax.tick_params(axis='both', which='major', direction='out', length=11, width=3, labelsize=FS_TICK, pad=8)
    ax.tick_params(axis='both', which='minor', direction='out', length=8, width=3)

    sx = ax.secondary_xaxis('top'); sx.set_xticks(xt_top[k]); sx.set_xticklabels([])
    sx.tick_params(direction='inout', length=18, width=3); sx.spines['top'].set_linewidth(3)
    sy = ax.secondary_yaxis('right'); sy.set_yticks(yt_right[k]); sy.set_yticklabels([])
    sy.tick_params(direction='out', length=12, width=3); sy.spines['right'].set_linewidth(3)

    ftext(*xlabel_pos[k], x_labels[k], ha='center', fontsize=FS_LAB)
    ftext(*ylabel_pos[k], y_label, ha='center', rotation=90, fontsize=FS_LAB+1)
    ftext(*eq_pos[k], equations[k], fontsize=FS_ANN-1)
    ftext(*let_pos[k], letters[k], fontsize=FS_ANN)
    rx, ry = r2_pos[k]
    ftext(rx, ry, "R", fontsize=FS_ANN)
    ftext(rx+56, ry-42, "2", fontsize=FS_ANN)
    ftext(rx+98, ry, "=", fontsize=FS_ANN)
    ftext(rx+163, ry, r2_values[k], fontsize=FS_ANN)
    ftext(*p_pos[k], p_texts[k], fontsize=FS_ANN-2, style='italic')
    ftext(*n_pos[k], n_text, fontsize=FS_ANN)

fig.savefig("out.png", dpi=100, facecolor='white')
